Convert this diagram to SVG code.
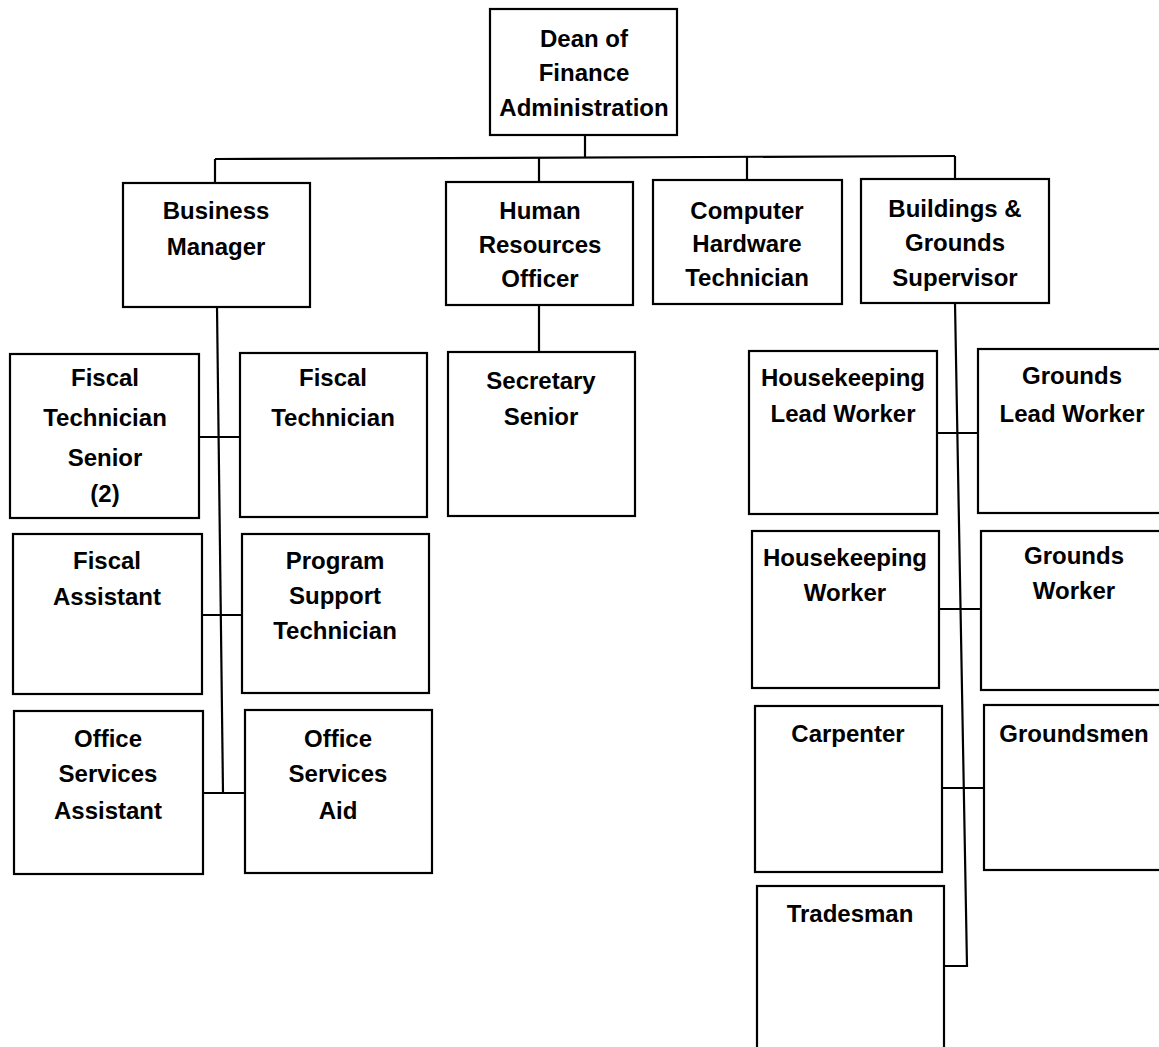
<svg xmlns="http://www.w3.org/2000/svg" width="1159" height="1047" viewBox="0 0 1159 1047">
<style>
.box{fill:#fff;stroke:#000;stroke-width:2.2}
.ln{fill:none;stroke:#000;stroke-width:2.2}
text{font-family:"Liberation Sans",Arial,sans-serif;font-weight:bold;font-size:24px;fill:#000;text-anchor:middle}
</style>
<rect width="1159" height="1047" fill="#fff"/>
<g id="connectors">
<path class="ln" d="M585 135 V158"/>
<path class="ln" d="M215 159 L955 156"/>
<path class="ln" d="M215 159 V183"/>
<path class="ln" d="M539 158 V182"/>
<path class="ln" d="M747 157 V180"/>
<path class="ln" d="M955 156 V179"/>
<path class="ln" d="M539 305 V352"/>
<path class="ln" d="M217 307 L223 793"/>
<path class="ln" d="M199 437 H240"/>
<path class="ln" d="M202 615 H242"/>
<path class="ln" d="M203 793 H245"/>
<path class="ln" d="M955 303 L967 966 H944"/>
<path class="ln" d="M937 433 H978"/>
<path class="ln" d="M939 609 H981"/>
<path class="ln" d="M942 788 H984"/>
</g>
<g id="dean"><rect class="box" x="490" y="9" width="187" height="126"/><text x="584" y="47">Dean of</text><text x="584" y="81">Finance</text><text x="584" y="116">Administration</text></g>
<g id="business-manager"><rect class="box" x="123" y="183" width="187" height="124"/><text x="216" y="219">Business</text><text x="216" y="255">Manager</text></g>
<g id="hr-officer"><rect class="box" x="446" y="182" width="187" height="123"/><text x="540" y="219">Human</text><text x="540" y="253">Resources</text><text x="540" y="287">Officer</text></g>
<g id="computer-tech"><rect class="box" x="653" y="180" width="189" height="124"/><text x="747" y="219">Computer</text><text x="747" y="252">Hardware</text><text x="747" y="286">Technician</text></g>
<g id="bg-supervisor"><rect class="box" x="861" y="179" width="188" height="124"/><text x="955" y="217">Buildings &amp;</text><text x="955" y="251">Grounds</text><text x="955" y="286">Supervisor</text></g>
<g id="secretary"><rect class="box" x="448" y="352" width="187" height="164"/><text x="541" y="389">Secretary</text><text x="541" y="425">Senior</text></g>
<g id="fiscal-tech-senior"><rect class="box" x="10" y="354" width="189" height="164"/><text x="105" y="386">Fiscal</text><text x="105" y="426">Technician</text><text x="105" y="466">Senior</text><text x="105" y="502">(2)</text></g>
<g id="fiscal-tech"><rect class="box" x="240" y="353" width="187" height="164"/><text x="333" y="386">Fiscal</text><text x="333" y="426">Technician</text></g>
<g id="fiscal-assistant"><rect class="box" x="13" y="534" width="189" height="160"/><text x="107" y="569">Fiscal</text><text x="107" y="605">Assistant</text></g>
<g id="program-support"><rect class="box" x="242" y="534" width="187" height="159"/><text x="335" y="569">Program</text><text x="335" y="604">Support</text><text x="335" y="639">Technician</text></g>
<g id="office-services-assistant"><rect class="box" x="14" y="711" width="189" height="163"/><text x="108" y="747">Office</text><text x="108" y="782">Services</text><text x="108" y="819">Assistant</text></g>
<g id="office-services-aid"><rect class="box" x="245" y="710" width="187" height="163"/><text x="338" y="747">Office</text><text x="338" y="782">Services</text><text x="338" y="819">Aid</text></g>
<g id="housekeeping-lead"><rect class="box" x="749" y="351" width="188" height="163"/><text x="843" y="386">Housekeeping</text><text x="843" y="422">Lead Worker</text></g>
<g id="grounds-lead"><rect class="box" x="978" y="349" width="190" height="164"/><text x="1072" y="384">Grounds</text><text x="1072" y="422">Lead Worker</text></g>
<g id="housekeeping-worker"><rect class="box" x="752" y="531" width="187" height="157"/><text x="845" y="566">Housekeeping</text><text x="845" y="601">Worker</text></g>
<g id="grounds-worker"><rect class="box" x="981" y="531" width="190" height="159"/><text x="1074" y="564">Grounds</text><text x="1074" y="599">Worker</text></g>
<g id="carpenter"><rect class="box" x="755" y="706" width="187" height="166"/><text x="848" y="742">Carpenter</text></g>
<g id="groundsmen"><rect class="box" x="984" y="705" width="190" height="165"/><text x="1074" y="742">Groundsmen</text></g>
<g id="tradesman"><rect class="box" x="757" y="886" width="187" height="170"/><text x="850" y="922">Tradesman</text></g>
</svg>
